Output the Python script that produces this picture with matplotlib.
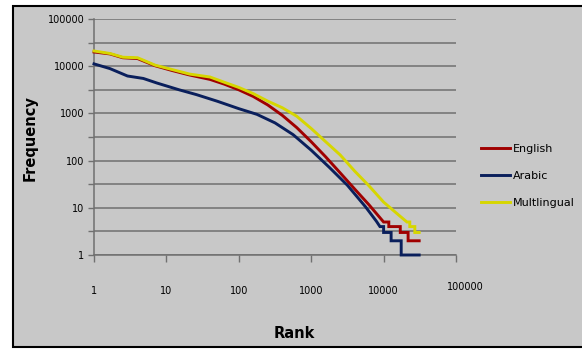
import matplotlib
matplotlib.use("Agg")
from matplotlib import pyplot as plt
from matplotlib.patches import Rectangle
from matplotlib.transforms import ScaledTranslation
import numpy as np

# Data (rank vs. frequency, log-log)
english_rank = [1, 1.66, 2.5, 4, 7, 12, 21, 40, 63, 100, 158, 251, 398, 631, 1000, 1585, 2512, 3981, 6310,
                10000, 11800, 11800, 17000, 17000, 21800, 21800, 31000]
english_freq = [20000, 18200, 15100, 14500, 10200, 8100, 6500, 5250, 4170, 3160, 2290, 1510, 912, 501, 251,
                120, 55, 25, 11.5, 5, 5, 4, 4, 3, 3, 2, 2]

arabic_rank = [1, 1.66, 2.9, 4.8, 7.4, 15, 26, 51, 100, 178, 316, 562, 1000, 1778, 3162, 5623, 7943,
               8900, 10000, 10000, 12700, 12700, 17500, 17500, 31000]
arabic_freq = [11200, 8900, 6200, 5500, 4400, 3160, 2500, 1800, 1260, 955, 630, 355, 166, 72, 30, 10.5, 5.2,
               4, 4, 3, 3, 2, 2, 1, 1]

multi_rank = [1, 1.66, 2.5, 4, 7, 12, 21, 40, 63, 100, 158, 251, 398, 631, 1000, 1585, 2512, 3981, 6310,
              10000, 15850, 21000, 23000, 23000, 27000, 27000, 31000]
multi_freq = [21000, 18600, 15500, 15100, 10500, 8500, 6800, 5900, 4570, 3550, 2630, 1820, 1320, 871, 479,
              251, 132, 60, 29, 13.2, 7.2, 5, 5, 4, 4, 3, 3]

series_labels = ["English", "Arabic", "Multlingual"]
series_colors = ["#a00000", "#0a1f5c", "#d6d600"]

x_ticks = [1, 10, 100, 1000, 10000, 100000]
y_ticks = [10 ** (k / 2) for k in range(11)]
y_tick_labels = ["1", "", "10", "", "100", "", "1000", "", "10000", "", "100000"]

BG = "#c8c8c8"

fig = plt.figure(figsize=(5.82, 3.49), dpi=100)
fig.patch.set_facecolor("white")

# grey chart area with a black border
fig.patches.append(Rectangle((13 / 582, 2 / 349), 1.2, 341 / 349, transform=fig.transFigure,
                             facecolor=BG, edgecolor="black", linewidth=1.5, zorder=-10))

ax = fig.add_axes([94 / 582, 1 - 255 / 349, 362 / 582, 236 / 349])
ax.set_facecolor(BG)
ax.set_xscale("log")
ax.set_yscale("log")

for rank, freq, label, color in zip([english_rank, arabic_rank, multi_rank],
                                    [english_freq, arabic_freq, multi_freq],
                                    series_labels, series_colors):
    ax.plot(rank, freq, color=color, linewidth=2.1, label=label, clip_on=False,
            solid_joinstyle="miter", zorder=3)

ax.set_xlim(1, 100000)
ax.set_ylim(1, 100000)

ax.xaxis.set_major_locator(matplotlib.ticker.FixedLocator(x_ticks))
ax.xaxis.set_major_formatter(matplotlib.ticker.FixedFormatter([str(t) for t in x_ticks]))
ax.xaxis.set_minor_locator(matplotlib.ticker.NullLocator())
ax.yaxis.set_major_locator(matplotlib.ticker.FixedLocator(y_ticks))
ax.yaxis.set_major_formatter(matplotlib.ticker.FixedFormatter(y_tick_labels))
ax.yaxis.set_minor_locator(matplotlib.ticker.NullLocator())

ax.grid(axis="y", color="#707070", linewidth=1.1)
ax.set_axisbelow(True)
ax.tick_params(axis="x", direction="out", length=5, width=1, color="#707070",
               labelsize=7, pad=17)
ax.tick_params(axis="y", direction="out", length=4, width=1, color="#707070",
               labelsize=7, pad=3)

# the last rank label sits a little right and higher in the original
last = ax.get_xticklabels()[-1]
last.set_transform(last.get_transform() + ScaledTranslation(0.09, 0.04, fig.dpi_scale_trans))

for side in ["top", "right"]:
    ax.spines[side].set_visible(False)
for side in ["left", "bottom"]:
    ax.spines[side].set_color("#707070")
    ax.spines[side].set_linewidth(1.1)

fig.text(30 / 582, 1 - 138 / 349, "Frequency", rotation=90, ha="center", va="center",
         fontsize=10.5, fontweight="bold")
fig.text(294 / 582, 1 - 334 / 349, "Rank", ha="center", va="center",
         fontsize=10.5, fontweight="bold")

fig.legend(loc="center left", bbox_to_anchor=(471 / 582, 1 - 176 / 349), frameon=False,
           fontsize=8, handlelength=2.6, handletextpad=0.25, labelspacing=1.55)

fig.savefig("out.png", dpi=100, facecolor=fig.get_facecolor())
